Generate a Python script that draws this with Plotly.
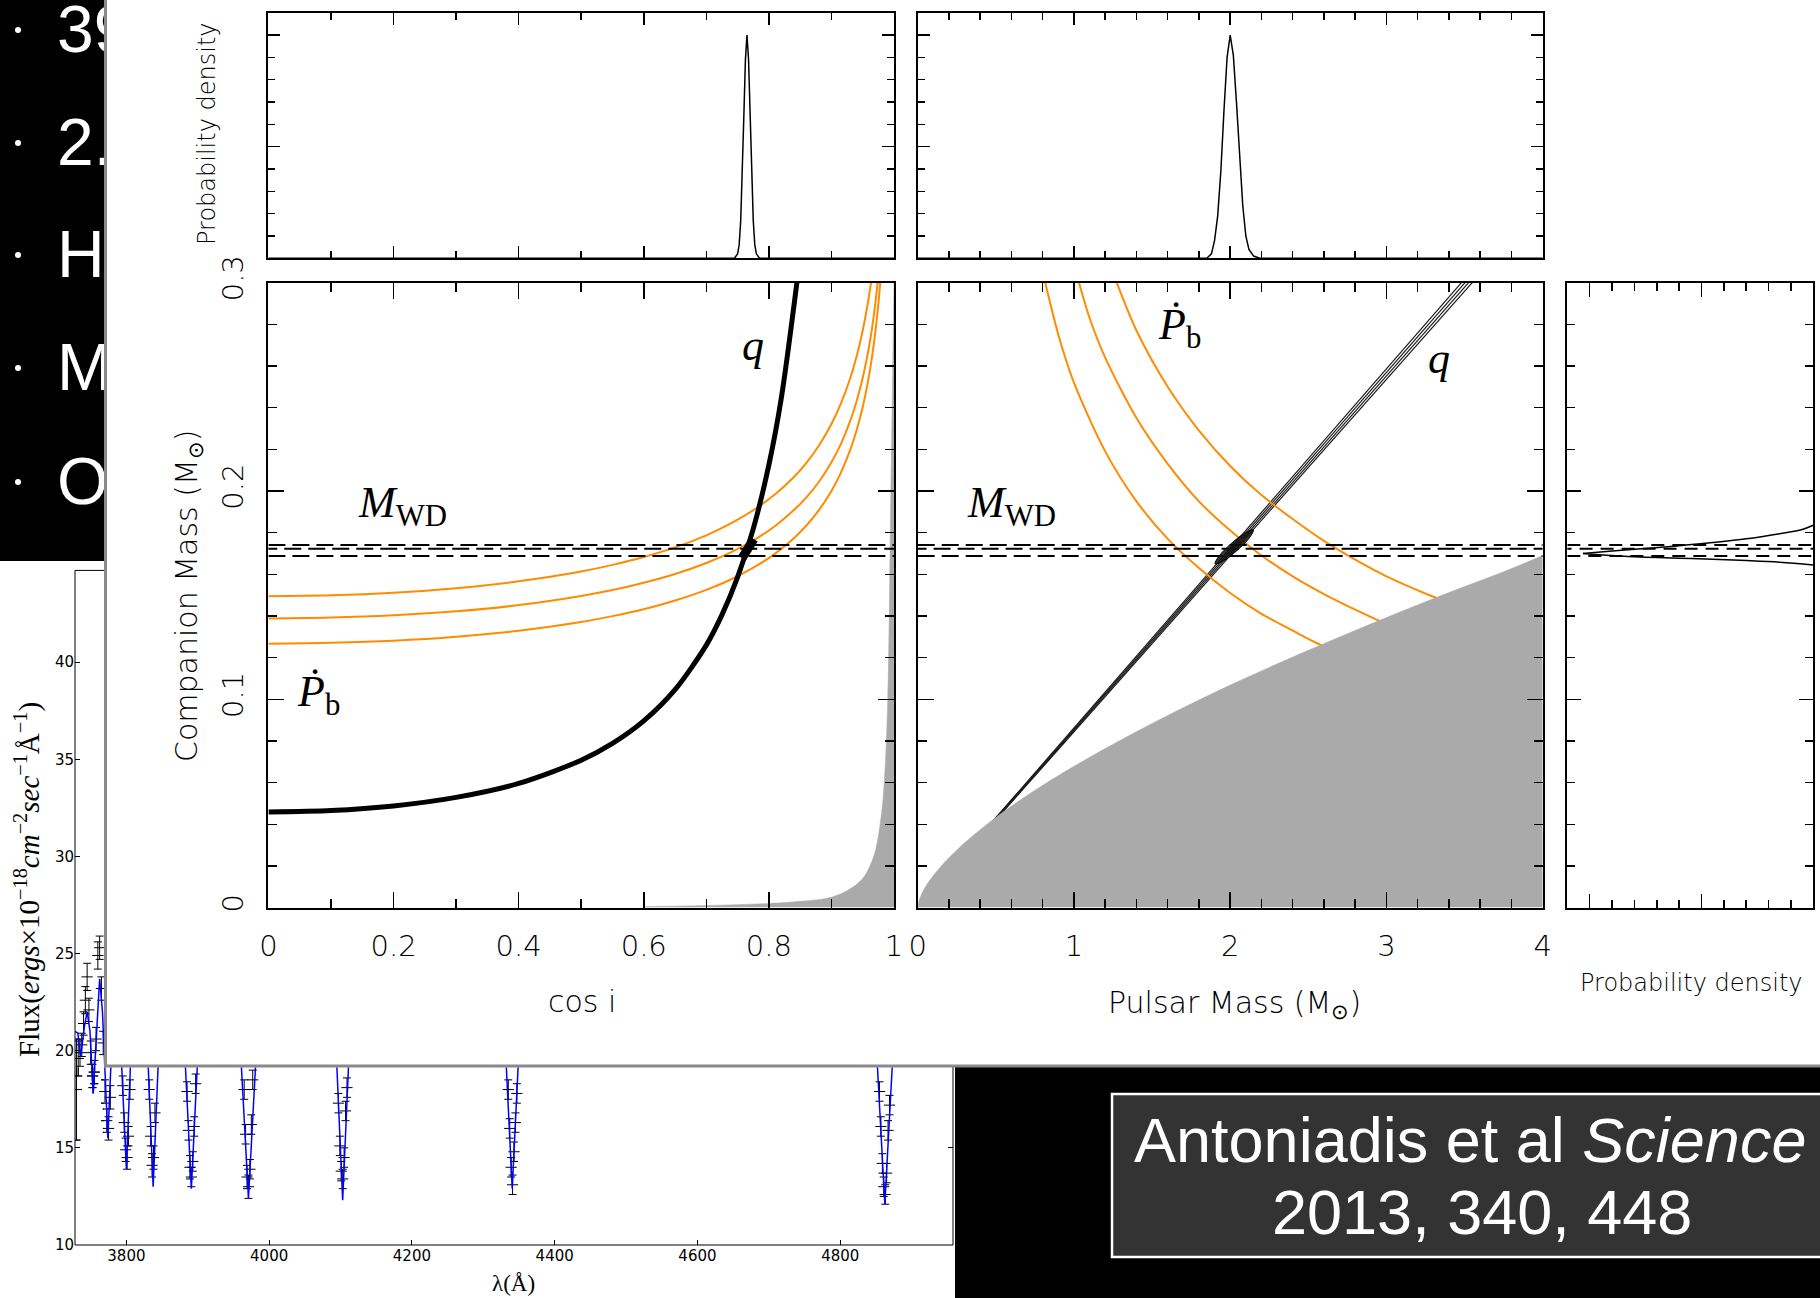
import plotly.graph_objects as go

W, H = 1820, 1298

# ---------------- slide bullets (left edge, partly hidden) ----------------
bullet_lines = ["39", "2.", "H", "M", "O"]

# ---------------- white-dwarf spectrum ----------------
model_wave = [3728, 3732, 3736, 3741, 3745, 3749, 3753.5, 3758, 3762.5, 3766.5, 3770, 3774, 3778,
              3786, 3793, 3800, 3807, 3816, 3828, 3837.5, 3847, 3862, 3879, 3891, 3903, 3930,
              3957, 3971, 3985, 4040, 4091.5, 4103, 4114.5, 4220, 4328.5, 4340.5, 4352.5, 4520,
              4720, 4848, 4862.5, 4877, 4960]
model_flux = [21.0, 20.9, 19.7, 21.2, 22.0, 21.0, 17.8, 21.0, 23.7, 22.0, 18.6, 15.5, 19.0,
              23.0, 19.5, 13.9, 20.5, 25.0, 21.5, 13.0, 21.5, 27.0, 22.0, 12.9, 22.0, 29.0,
              22.0, 12.4, 22.0, 31.0, 22.0, 12.3, 22.0, 32.0, 22.0, 12.9, 22.0, 32.0,
              30.0, 22.0, 12.1, 22.0, 28.0]

obs_wave = [3730.0, 3732.5, 3735.0, 3737.5, 3740.0, 3742.5, 3745.0, 3747.5, 3750.0, 3752.5,
            3755.0, 3757.5, 3760.0, 3762.5, 3765.0, 3767.5, 3770.0, 3772.5, 3775.0, 3777.5,
            3795, 3797, 3799, 3801, 3803, 3805,
            3832, 3834, 3836, 3838, 3840,
            3885, 3887, 3889, 3891, 3893, 3895, 3897,
            3965, 3967, 3969, 3971, 3973, 3975, 3977,
            4097, 4099, 4101, 4103, 4105, 4107, 4109,
            4335, 4337, 4339, 4341, 4343, 4345, 4347,
            4855, 4857, 4859, 4861, 4863, 4865, 4867, 4869]
obs_flux = [18.0, 19.6, 19.9, 20.3, 21.4, 22.6, 23.8, 22.1, 19.9, 18.7,
            18.9, 20.6, 24.9, 25.3, 23.2, 20.4, 17.9, 16.4, 16.0, 17.6,
            18.2, 16.3, 14.9, 14.5, 15.6, 18.0,
            18.0, 15.6, 14.1, 14.5, 16.8,
            17.9, 15.9, 14.0, 13.5, 14.3, 16.1, 18.3,
            18.0, 15.7, 13.5, 13.0, 13.9, 16.2, 18.5,
            17.3, 15.1, 13.8, 13.4, 14.5, 16.9, 18.1,
            18.0, 16.0, 14.0, 13.1, 14.8, 16.3, 17.8,
            17.9, 16.1, 14.2, 13.0, 12.6, 13.7, 15.9, 17.2]
obs_err = [2.6, 0.9, 0.7, 0.6, 0.6, 0.7, 0.7, 0.6, 0.6, 0.6,
           0.6, 0.6, 0.7, 0.6, 0.6, 0.6, 0.6, 0.6, 0.6, 0.6,
           0.5, 0.5, 0.6, 0.6, 0.5, 0.5,
           0.5, 0.5, 0.6, 0.6, 0.5,
           0.5, 0.5, 0.6, 0.5, 0.5, 0.5, 0.5,
           0.5, 0.5, 0.6, 0.6, 0.5, 0.5, 0.5,
           0.5, 0.5, 0.5, 0.5, 0.5, 0.5, 0.5,
           0.5, 0.5, 0.5, 0.5, 0.5, 0.5, 0.5,
           0.5, 0.5, 0.5, 0.5, 0.5, 0.5, 0.5, 0.5]
spec_xticks = [3800, 4000, 4200, 4400, 4600, 4800]
spec_yticks = [10, 15, 20, 25, 30, 35, 40]

# ---------------- mass / inclination constraints ----------------
cosi_ticks = [0, 0.2, 0.4, 0.6, 0.8, 1]
cosi_ticktext = ["0", "0.2", "0.4", "0.6", "0.8", "1"]
mp_ticks = [0, 1, 2, 3, 4]
mp_ticktext = ["0", "1", "2", "3", "4"]
mc_ticks = [0, 0.1, 0.2, 0.3]
mc_ticktext = ["0", "0.1", "0.2", "0.3"]
pdf_ticks = [5, 10]
side_pdf_ticks = [0, 5, 10]

# white-dwarf mass from spectroscopy (dashed)
mwd_levels = [0.1740, 0.1722, 0.1688]

# marginal distribution of cos i
cosi_pdf_x = [0, 0.745, 0.750, 0.7525, 0.755, 0.7575, 0.760, 0.7625, 0.765, 0.7675, 0.770,
              0.7725, 0.775, 0.7775, 0.780, 0.785, 1.0]
cosi_pdf_y = [0, 0, 0.2, 0.6, 1.7, 3.7, 6.4, 8.9, 10.0, 8.9, 6.4, 3.7, 1.7, 0.6, 0.2, 0, 0]

# marginal distribution of pulsar mass
mp_pdf_x = [0, 1.85, 1.88, 1.90, 1.92, 1.94, 1.96, 1.98, 2.00, 2.02, 2.04, 2.06, 2.08, 2.10,
            2.12, 2.15, 2.19, 4.0]
mp_pdf_y = [0, 0, 0.2, 0.8, 1.9, 3.9, 6.6, 9.0, 10.0, 9.1, 7.0, 4.4, 2.4, 1.0, 0.4, 0.1, 0, 0]

# mass-ratio constraint in the cos i plane
q_cosi = [0, 0.1, 0.2, 0.3, 0.4, 0.5, 0.55, 0.6, 0.65, 0.7, 0.725, 0.75, 0.775, 0.8, 0.82, 0.846]
q_mc = [0.0459, 0.0466, 0.0488, 0.0529, 0.0596, 0.0707, 0.0788, 0.0896, 0.1046, 0.1260,
        0.1405, 0.1586, 0.1818, 0.2125, 0.2448, 0.3028]
q_core_cosi = [0.757, 0.776]
q_core_mc = [0.1678, 0.1769]

# orbital decay constraint in the cos i plane (upper / central / lower)
pb_hi_cosi = [0, 0.1, 0.2, 0.3, 0.4, 0.5, 0.55, 0.6, 0.65, 0.7, 0.74, 0.78, 0.81, 0.84, 0.86,
              0.88, 0.9, 0.915, 0.93, 0.94, 0.95, 0.96, 0.965]
pb_hi_mc = [0.1495, 0.1499, 0.1511, 0.1533, 0.1566, 0.1613, 0.1645, 0.1683, 0.1729, 0.1787,
            0.1845, 0.1917, 0.1984, 0.2067, 0.2135, 0.2218, 0.2321, 0.2419, 0.2541, 0.2643,
            0.2770, 0.2935, 0.3039]
pb_mid_cosi = [0, 0.1, 0.2, 0.3, 0.4, 0.5, 0.55, 0.6, 0.65, 0.7, 0.74, 0.78, 0.81, 0.84, 0.86,
               0.88, 0.9, 0.915, 0.93, 0.94, 0.95, 0.96, 0.965, 0.97, 0.975]
pb_mid_mc = [0.1388, 0.1392, 0.1403, 0.1422, 0.1452, 0.1496, 0.1524, 0.1559, 0.1601, 0.1654,
             0.1706, 0.1771, 0.1832, 0.1908, 0.1969, 0.2044, 0.2138, 0.2225, 0.2336, 0.2428,
             0.2543, 0.2691, 0.2784, 0.2896, 0.3034]
pb_lo_cosi = [0, 0.1, 0.2, 0.3, 0.4, 0.5, 0.55, 0.6, 0.65, 0.7, 0.74, 0.78, 0.81, 0.84, 0.86,
              0.88, 0.9, 0.915, 0.93, 0.94, 0.95, 0.96, 0.965, 0.97, 0.975, 0.978]
pb_lo_mc = [0.1267, 0.1271, 0.1281, 0.1300, 0.1329, 0.1371, 0.1399, 0.1432, 0.1474, 0.1525,
            0.1576, 0.1640, 0.1699, 0.1773, 0.1834, 0.1908, 0.2000, 0.2087, 0.2197, 0.2289,
            0.2403, 0.2552, 0.2646, 0.2758, 0.2898, 0.3000]

# excluded region, cos i plane
cosi_excl_x = [0.6, 0.7, 0.8, 0.85, 0.9, 0.93, 0.95, 0.96, 0.97, 0.98, 0.985, 0.99, 0.995, 1.0]
cosi_excl_y = [0.0005, 0.001, 0.002, 0.003, 0.005, 0.009, 0.014, 0.019, 0.027, 0.045, 0.063,
               0.10, 0.20, 0.30]

# excluded region (sin i <= 1), mass-mass plane
mp_excl_x = [0, 0.01, 0.03, 0.06, 0.1, 0.15, 0.2, 0.3, 0.4, 0.5, 0.65, 0.8, 1.0, 1.25, 1.5,
             1.75, 2.0, 2.25, 2.5, 2.75, 3.0, 3.25, 3.5, 3.75, 4.0]
mp_excl_y = [0, 0.0037, 0.0073, 0.0112, 0.0154, 0.0199, 0.0239, 0.0311, 0.0374, 0.0433,
             0.0513, 0.0587, 0.0678, 0.0784, 0.0884, 0.0978, 0.1068, 0.1153, 0.1235, 0.1315,
             0.1392, 0.1468, 0.1541, 0.1612, 0.1690]

# orbital decay constraint, mass-mass plane (ends run under the excluded region)
pb1_mp = [0.816, 0.9, 1.0, 1.2, 1.4, 1.6, 1.8, 2.0, 2.2, 2.4, 2.553, 2.7]
pb1_mc = [0.300, 0.275, 0.252, 0.219, 0.195, 0.177, 0.163, 0.151, 0.141, 0.133, 0.127, 0.1225]
pb2_mp = [1.032, 1.1, 1.2, 1.4, 1.6, 1.8, 2.0, 2.2, 2.4, 2.6, 2.8, 2.93, 3.1]
pb2_mc = [0.300, 0.283, 0.264, 0.235, 0.213, 0.195, 0.181, 0.169, 0.159, 0.1505, 0.143, 0.1385, 0.133]
pb3_mp = [1.274, 1.4, 1.6, 1.8, 2.0, 2.2, 2.4, 2.6, 2.8, 3.0, 3.28, 3.5]
pb3_mc = [0.300, 0.277, 0.250, 0.229, 0.212, 0.198, 0.1865, 0.176, 0.167, 0.159, 0.1498, 0.1433]

# mass-ratio band, mass-mass plane (start / end of each contour line)
qband_mp0 = [0.40, 0.40, 0.40, 0.40]
qband_mc0 = [0.0345, 0.0342, 0.0339, 0.0336]
qband_mp1 = [3.480, 3.503, 3.526, 3.549]
qband_mc1 = [0.300, 0.300, 0.300, 0.300]

# joint confidence contour
joint_mp = [2.148, 2.126, 2.045, 1.952, 1.903, 1.926, 2.006, 2.099, 2.148]
joint_mc = [0.1813, 0.1778, 0.1715, 0.1662, 0.1650, 0.1685, 0.1747, 0.1800, 0.1813]

# companion-mass marginal (side panel)
side_hi_x = [-0.3, 1, 2.5, 4, 5.5, 7, 8.5, 9.5, 10]
side_hi_y = [0.1700, 0.1712, 0.1724, 0.1737, 0.1752, 0.1770, 0.1795, 0.1815, 0.1835]
side_lo_x = [-0.3, 1, 2.5, 4, 5.5, 7, 8.5, 10]
side_lo_y = [0.1700, 0.1690, 0.1682, 0.1677, 0.1672, 0.1666, 0.1658, 0.1645]

citation_1 = "Antoniadis et al <i>Science</i>"
citation_2 = "2013, 340, 448"

# ---------------- helpers (pixel geometry of the page) ----------------
def dom_x(a, b):
    return [a / W, b / W]


def dom_y(top, bottom):
    return [1 - bottom / H, 1 - top / H]


def rect(x0, y0, x1, y1, fill, line_color=None, line_width=0):
    return dict(type="rect", xref="paper", yref="paper", layer="below",
                x0=x0 / W, x1=x1 / W, y0=1 - y1 / H, y1=1 - y0 / H,
                fillcolor=fill, line=dict(color=line_color or fill, width=line_width))


def note(text, x, y, size, family, color="black", angle=0, weight=None):
    font = dict(family=family, size=size, color=color)
    if weight:
        font["weight"] = weight
    return dict(text=text, x=x / W, y=1 - y / H, xref="paper", yref="paper",
                showarrow=False, font=font, textangle=angle,
                xanchor="center", yanchor="middle")


HERSHEY = "DejaVu Sans"
SERIF = "Liberation Serif, DejaVu Serif, serif"
ARIAL = "Liberation Sans, Arial, sans-serif"
TICKFONT = dict(family=HERSHEY, size=29, color="black", weight=200)
ORANGE = "#ff8c00"
GREY = "#aaaaaa"


def framed(domain, anchor, rng, tickvals, minor_dtick, major_len, minor_len,
           ticktext=None, angle=None, standoff=0):
    ax = dict(domain=domain, anchor=anchor, range=rng, autorange=False,
              showline=True, linecolor="black", linewidth=2, mirror="allticks",
              ticks="inside", ticklen=major_len, tickwidth=1.5, tickcolor="black",
              tickmode="array", tickvals=tickvals,
              minor=dict(ticks="inside", ticklen=minor_len, tickwidth=1.5,
                         tickcolor="black", dtick=minor_dtick, tick0=0, showgrid=False),
              showgrid=False, zeroline=False, automargin=False, fixedrange=True)
    if ticktext is not None:
        ax.update(ticktext=ticktext, showticklabels=True, tickfont=TICKFONT,
                  ticklabelstandoff=standoff)
        if angle is not None:
            ax["tickangle"] = angle
    else:
        ax["showticklabels"] = False
    return ax


fig = go.Figure()

# ---------------- bullets ----------------
bullet_y = [35, 148, 260, 373, 487]
fig.add_trace(go.Scatter(x=[18] * len(bullet_lines), y=[v - 5 for v in bullet_y], mode="markers",
                         marker=dict(color="white", size=6), xaxis="x6", yaxis="y6",
                         cliponaxis=True))
fig.add_trace(go.Scatter(x=[57] * len(bullet_lines), y=bullet_y, mode="text", text=bullet_lines,
                         textposition="middle right",
                         textfont=dict(family=ARIAL, size=66, color="white"),
                         xaxis="x6", yaxis="y6", cliponaxis=True))

# ---------------- spectrum (two clipped windows of the same axes) ----------------
for ax_id in ("7", "8"):
    fig.add_trace(go.Scatter(x=obs_wave, y=obs_flux, mode="markers",
                             error_y=dict(type="data", array=obs_err, visible=True,
                                          color="black", thickness=1, width=4),
                             marker=dict(symbol="line-ew", size=8, color="black",
                                         line=dict(color="black", width=1)),
                             xaxis="x" + ax_id, yaxis="y" + ax_id, cliponaxis=True))
    fig.add_trace(go.Scatter(x=model_wave, y=model_flux, mode="lines",
                             line=dict(color="#0000ff", width=1.5),
                             xaxis="x" + ax_id, yaxis="y" + ax_id))

# ---------------- cos i vs companion mass ----------------
fig.add_trace(go.Scatter(x=cosi_excl_x, y=cosi_excl_y, mode="lines", fill="tozeroy",
                         fillcolor=GREY, line=dict(color=GREY, width=0.5, shape="spline"),
                         xaxis="x", yaxis="y"))
for xs, ys in ((pb_hi_cosi, pb_hi_mc), (pb_mid_cosi, pb_mid_mc), (pb_lo_cosi, pb_lo_mc)):
    fig.add_trace(go.Scatter(x=xs, y=ys, mode="lines",
                             line=dict(color=ORANGE, width=2, shape="spline", smoothing=1.0),
                             xaxis="x", yaxis="y"))
fig.add_trace(go.Scatter(x=q_cosi, y=q_mc, mode="lines",
                         line=dict(color="black", width=5, shape="spline", smoothing=0.8),
                         xaxis="x", yaxis="y"))
fig.add_trace(go.Scatter(x=q_core_cosi, y=q_core_mc, mode="lines",
                         line=dict(color="black", width=9), xaxis="x", yaxis="y"))

cosi_range = [0, 1]
mp_range = [0, 4]
mc_range = [0, 0.3]
side_range = [-1, 10]

# ---------------- pulsar mass vs companion mass ----------------
for a, b, c, d in zip(qband_mp0, qband_mc0, qband_mp1, qband_mc1):
    fig.add_trace(go.Scatter(x=[a, c], y=[b, d], mode="lines",
                             line=dict(color="#1a1a1a", width=1.2), xaxis="x2", yaxis="y2"))
for xs, ys in ((pb1_mp, pb1_mc), (pb2_mp, pb2_mc), (pb3_mp, pb3_mc)):
    fig.add_trace(go.Scatter(x=xs, y=ys, mode="lines",
                             line=dict(color=ORANGE, width=2, shape="spline", smoothing=0.8),
                             xaxis="x2", yaxis="y2"))
fig.add_trace(go.Scatter(x=mp_excl_x, y=mp_excl_y, mode="lines", fill="tozeroy",
                         fillcolor=GREY, line=dict(color=GREY, width=0.5, shape="spline"),
                         xaxis="x2", yaxis="y2"))

for i, lev in enumerate(mwd_levels):
    shift = 0.013 if i == 1 else 0
    fig.add_trace(go.Scatter(x=[cosi_range[0] - shift, cosi_range[1]], y=[lev, lev], mode="lines",
                             line=dict(color="black", width=2, dash="17px,7px"),
                             xaxis="x", yaxis="y"))
    fig.add_trace(go.Scatter(x=[mp_range[0] - 4 * shift, mp_range[1]], y=[lev, lev], mode="lines",
                             line=dict(color="black", width=2, dash="17px,7px"),
                             xaxis="x2", yaxis="y2"))
    fig.add_trace(go.Scatter(x=[side_range[0] - 30 * shift, side_range[1]], y=[lev, lev],
                             mode="lines", line=dict(color="black", width=2, dash="13px,8px"),
                             xaxis="x5", yaxis="y5"))

fig.add_trace(go.Scatter(x=joint_mp, y=joint_mc, mode="lines", fill="toself",
                         fillcolor="rgba(15,15,15,0.85)",
                         line=dict(color="black", width=1, shape="spline"),
                         xaxis="x2", yaxis="y2"))

# ---------------- marginal distributions ----------------
fig.add_trace(go.Scatter(x=cosi_pdf_x, y=cosi_pdf_y, mode="lines",
                         line=dict(color="black", width=1.5), xaxis="x3", yaxis="y3"))
fig.add_trace(go.Scatter(x=mp_pdf_x, y=mp_pdf_y, mode="lines",
                         line=dict(color="black", width=1.5), xaxis="x4", yaxis="y4"))
fig.add_trace(go.Scatter(x=side_hi_x, y=side_hi_y, mode="lines",
                         line=dict(color="black", width=1.5, shape="spline"), xaxis="x5", yaxis="y5"))
fig.add_trace(go.Scatter(x=side_lo_x, y=side_lo_y, mode="lines",
                         line=dict(color="black", width=1.5, shape="spline"), xaxis="x5", yaxis="y5"))

# ---------------- axes ----------------
S_TOP_L = (268.4, 894.0, 12.7, 258.3)
S_TOP_M = (917.7, 1542.7, 12.7, 258.3)
S_MAIN_L = (268.4, 894.0, 282.6, 907.6)
S_MAIN_M = (917.7, 1542.7, 282.6, 907.6)
S_SIDE = (1567.3, 1813.3, 282.6, 907.6)

layout_axes = dict(
    xaxis=framed(dom_x(*S_MAIN_L[:2]), "y", cosi_range, cosi_ticks, 0.1, 16, 9,
                 ticktext=cosi_ticktext, standoff=12),
    yaxis=framed(dom_y(*S_MAIN_L[2:]), "x", mc_range, mc_ticks, 0.02, 16, 9,
                 ticktext=mc_ticktext, angle=-90, standoff=12),
    xaxis2=framed(dom_x(*S_MAIN_M[:2]), "y2", mp_range, mp_ticks, 0.2, 16, 9,
                  ticktext=mp_ticktext, standoff=12),
    yaxis2=framed(dom_y(*S_MAIN_M[2:]), "x2", mc_range, mc_ticks, 0.02, 16, 9),
    xaxis3=framed(dom_x(*S_TOP_L[:2]), "y3", cosi_range, cosi_ticks, 0.1, 12, 7),
    yaxis3=framed(dom_y(*S_TOP_L[2:]), "x3", [0, 11], pdf_ticks, 1, 12, 7),
    xaxis4=framed(dom_x(*S_TOP_M[:2]), "y4", mp_range, mp_ticks, 0.2, 12, 7),
    yaxis4=framed(dom_y(*S_TOP_M[2:]), "x4", [0, 11], pdf_ticks, 1, 12, 7),
    xaxis5=framed(dom_x(*S_SIDE[:2]), "y5", side_range, side_pdf_ticks, 1, 14, 8),
    yaxis5=framed(dom_y(*S_SIDE[2:]), "x5", mc_range, mc_ticks, 0.02, 14, 8),
)

hidden = dict(showline=False, showgrid=False, zeroline=False, showticklabels=False, ticks="",
              automargin=False, fixedrange=True)
layout_axes["xaxis6"] = dict(domain=dom_x(0, 104), anchor="y6", range=[0, 104], **hidden)
layout_axes["yaxis6"] = dict(domain=dom_y(0, 560), anchor="x6", range=[560, 0], **hidden)

spec_box = (75.0, 953.0, 570.4, 1245.0)       # left, right, top, bottom (px)
spec_xr = [3728, 4958]
spec_yr = [10, 44.72]
kx = (spec_box[1] - spec_box[0]) / (spec_xr[1] - spec_xr[0])
ky = (spec_box[3] - spec_box[2]) / (spec_yr[1] - spec_yr[0])
cover_left = 104.0
cover_bottom = 1067.5
spec_tickfont = dict(family="DejaVu Sans", size=15, color="black")

layout_axes["xaxis7"] = dict(domain=dom_x(spec_box[0], cover_left), anchor="y7",
                             range=[spec_xr[0], spec_xr[0] + (cover_left - spec_box[0]) / kx], **hidden)
layout_axes["yaxis7"] = dict(domain=dom_y(spec_box[2], spec_box[3]), anchor="x7", range=spec_yr,
                             tickmode="array", tickvals=spec_yticks, ticks="inside", ticklen=5,
                             tickwidth=1, tickcolor="black", tickfont=spec_tickfont,
                             showline=False, showgrid=False, zeroline=False, automargin=False,
                             fixedrange=True)
layout_axes["xaxis8"] = dict(domain=dom_x(spec_box[0], spec_box[1]), anchor="y8", range=spec_xr,
                             tickmode="array", tickvals=spec_xticks, ticks="inside", ticklen=5,
                             tickwidth=1, tickcolor="black", tickfont=spec_tickfont,
                             showline=False, showgrid=False, zeroline=False, automargin=False,
                             fixedrange=True)
layout_axes["yaxis8"] = dict(domain=dom_y(cover_bottom, spec_box[3]), anchor="x8",
                             range=[spec_yr[0], spec_yr[0] + (spec_box[3] - cover_bottom) / ky],
                             tickmode="array", tickvals=spec_yticks, ticks="inside", ticklen=5,
                             tickwidth=1, tickcolor="black", mirror="ticks", showticklabels=False,
                             showline=False, showgrid=False, zeroline=False, automargin=False,
                             fixedrange=True)

shapes = [
    rect(0, 561, 955, H + 5, "white"),
    dict(type="rect", xref="paper", yref="paper", layer="below",
         x0=spec_box[0] / W, x1=spec_box[1] / W, y0=1 - spec_box[3] / H, y1=1 - spec_box[2] / H,
         fillcolor="rgba(0,0,0,0)", line=dict(color="black", width=1)),
    rect(105.5, -10, W + 10, 1066, "white", line_color="#8a8a8a", line_width=3),
    rect(1112, 1094, W + 20, 1257, "#333333", line_color="white", line_width=2.5),
]

annotations = [
    note("Probability density", 207, 134, 24, HERSHEY, angle=-90, weight=200),
    note("Companion Mass (M<sub>⊙</sub>)", 189, 596, 30, HERSHEY, angle=-90, weight=200),
    note("cos i", 582, 1001, 30, HERSHEY, weight=200),
    note("Pulsar Mass (M<sub>⊙</sub>)", 1234, 1004, 30, HERSHEY, weight=200),
    note("Probability density", 1691, 983, 24, HERSHEY, weight=200),
    note("<i>M</i><sub>WD</sub>", 402, 505, 44, SERIF),
    note("<i>M</i><sub>WD</sub>", 1011, 505, 44, SERIF),
    note("<i>Ṗ</i><sub>b</sub>", 318, 694, 44, SERIF),
    note("<i>Ṗ</i><sub>b</sub>", 1179, 328, 44, SERIF),
    note("<i>q</i>", 753, 345, 44, SERIF),
    note("<i>q</i>", 1439, 358, 44, SERIF),
    note("Flux(<i>ergs</i>×10<sup>−18</sup><i>cm</i><sup>−2</sup><i>sec</i><sup>−1</sup>Å<sup>−1</sup>)",
         27, 880, 29, SERIF, angle=-90),
    note("λ(Å)", 513, 1283, 23, SERIF),
    note(citation_1, 1470, 1140, 63, ARIAL, color="white"),
    note(citation_2, 1482, 1212, 63, ARIAL, color="white"),
]

fig.update_layout(
    template="none",
    width=W, height=H,
    margin=dict(l=0, r=0, t=0, b=0, pad=0),
    paper_bgcolor="black",
    plot_bgcolor="rgba(0,0,0,0)",
    showlegend=False,
    hovermode=False,
    shapes=shapes,
    annotations=annotations,
    **layout_axes,
)

fig.write_html("out.html", include_plotlyjs=True, config={"displayModeBar": False, "staticPlot": True})
